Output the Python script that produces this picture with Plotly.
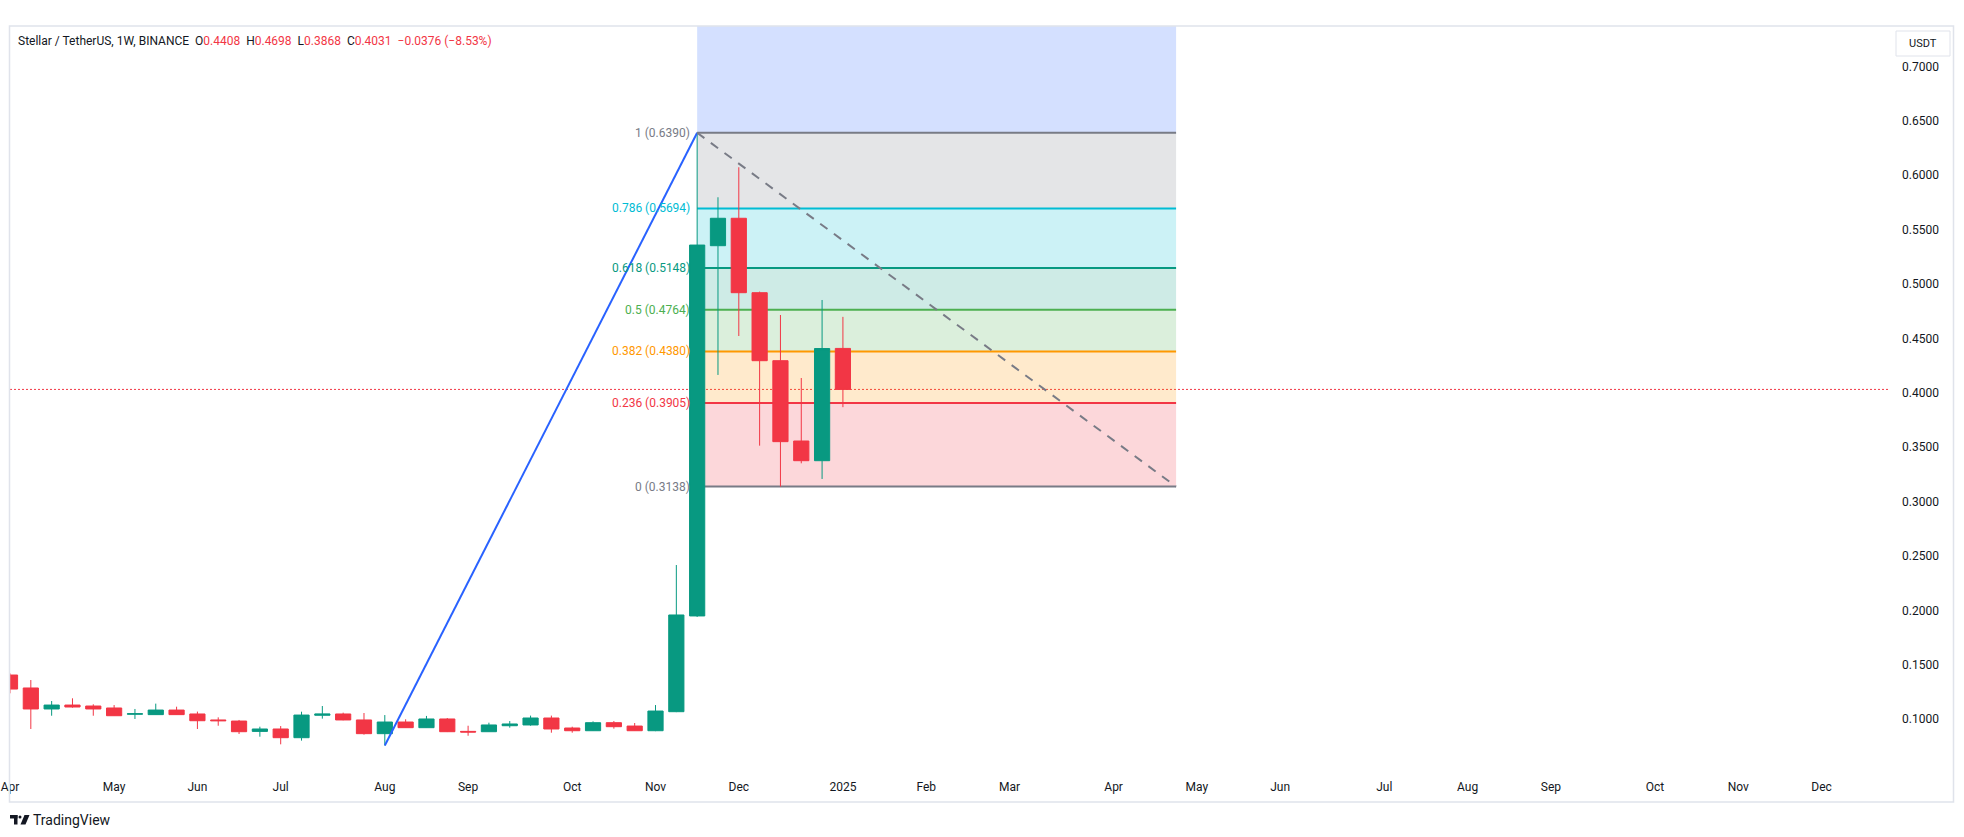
import plotly.graph_objects as go

# ---------------- data ----------------
dates = ["2024-04-01", "2024-04-08", "2024-04-15", "2024-04-22", "2024-04-29",
         "2024-05-06", "2024-05-13", "2024-05-20", "2024-05-27", "2024-06-03",
         "2024-06-10", "2024-06-17", "2024-06-24", "2024-07-01", "2024-07-08",
         "2024-07-15", "2024-07-22", "2024-07-29", "2024-08-05", "2024-08-12",
         "2024-08-19", "2024-08-26", "2024-09-02", "2024-09-09", "2024-09-16",
         "2024-09-23", "2024-09-30", "2024-10-07", "2024-10-14", "2024-10-21",
         "2024-10-28", "2024-11-04", "2024-11-11", "2024-11-18", "2024-11-25",
         "2024-12-02", "2024-12-09", "2024-12-16", "2024-12-23", "2024-12-30",
         "2025-01-06"]
opens = [0.1406, 0.1287, 0.1094, 0.1130, 0.1121, 0.1103, 0.1046, 0.1042, 0.1084, 0.1048,
         0.0993, 0.0983, 0.0888, 0.0910, 0.0830, 0.1036, 0.1048, 0.0993, 0.0867, 0.0974,
         0.0922, 0.1002, 0.0888, 0.0885, 0.0940, 0.0947, 0.1011, 0.0919, 0.0894, 0.0968,
         0.0937, 0.0894, 0.1069, 0.1949, 0.5352, 0.5604, 0.4920, 0.4295, 0.3557, 0.3376,
         0.4408]
highs = [0.1421, 0.1360, 0.1167, 0.1192, 0.1137, 0.1130, 0.1094, 0.1143, 0.1115, 0.1070,
         0.1017, 0.0993, 0.0931, 0.0937, 0.1069, 0.1121, 0.1060, 0.1057, 0.1038, 0.0999,
         0.1030, 0.1011, 0.0940, 0.0968, 0.0983, 0.1033, 0.1033, 0.0931, 0.0980, 0.0983,
         0.0965, 0.1130, 0.2417, 0.6390, 0.5797, 0.6073, 0.4930, 0.4715, 0.4136, 0.4853,
         0.4698]
lows = [0.1238, 0.0910, 0.1032, 0.1106, 0.1032, 0.1030, 0.1002, 0.1040, 0.1040, 0.0910,
        0.0940, 0.0864, 0.0839, 0.0769, 0.0803, 0.1005, 0.0990, 0.0858, 0.0758, 0.0920,
        0.0920, 0.0882, 0.0848, 0.0883, 0.0922, 0.0940, 0.0876, 0.0876, 0.0892, 0.0913,
        0.0892, 0.0890, 0.1065, 0.1940, 0.4164, 0.4522, 0.3514, 0.3138, 0.3352, 0.3208,
        0.3868]
closes = [0.1277, 0.1094, 0.1130, 0.1112, 0.1094, 0.1032, 0.1050, 0.1084, 0.1042, 0.0986,
          0.0986, 0.0885, 0.0910, 0.0830, 0.1038, 0.1048, 0.0993, 0.0867, 0.0974, 0.0922,
          0.1002, 0.0885, 0.0882, 0.0947, 0.0956, 0.1011, 0.0910, 0.0894, 0.0968, 0.0931,
          0.0894, 0.1075, 0.1958, 0.5358, 0.5604, 0.4920, 0.4295, 0.3551, 0.3376, 0.4407,
          0.4031]

# fibonacci retracement drawing
fib_start = "2024-11-18"
fib_end = "2025-04-28"
fib_high = 0.6390
fib_low = 0.3138
fib_levels = [0, 0.236, 0.382, 0.5, 0.618, 0.786, 1]
fib_ext_level = 1.618
fib_colors = ["#787b86", "#f23645", "#ff9800", "#4caf50", "#089981", "#00bcd4", "#787b86"]
fib_ext_color = "#2962ff"

# trend line (blue)
trend_start = "2024-08-05"
trend_low = 0.0758

last_price = 0.4031

month_ticks = ["2024-04-01", "2024-05-06", "2024-06-03", "2024-07-01", "2024-08-05",
               "2024-09-02", "2024-10-07", "2024-11-04", "2024-12-02", "2025-01-06",
               "2025-02-03", "2025-03-03", "2025-04-07", "2025-05-05", "2025-06-02",
               "2025-07-07", "2025-08-04", "2025-09-01", "2025-10-06", "2025-11-03",
               "2025-12-01"]
month_labels = ["Apr", "May", "Jun", "Jul", "Aug", "Sep", "Oct", "Nov", "Dec", "2025",
                "Feb", "Mar", "Apr", "May", "Jun", "Jul", "Aug", "Sep", "Oct", "Nov", "Dec"]

price_ticks = [0.10, 0.15, 0.20, 0.25, 0.30, 0.35, 0.40, 0.45, 0.50, 0.55, 0.60, 0.65, 0.70]

# ---------------- layout geometry (pixels) ----------------
W, H = 1964, 837
PL, PR, PT, PB = 10, 1890, 26, 774
FONT = "Roboto"
TXT = "#131722"
GREEN = "#089981"
RED = "#f23645"


def px(x):
    return (x - PL) / (PR - PL)


def py(y):
    return (PB - y) / (PB - PT)


def rgba(hexc, a):
    h = hexc.lstrip("#")
    r, g, b = int(h[0:2], 16), int(h[2:4], 16), int(h[4:6], 16)
    return f"rgba({r},{g},{b},{a})"


fig = go.Figure()

fig.add_trace(go.Candlestick(
    x=dates, open=opens, high=highs, low=lows, close=closes,
    increasing=dict(line=dict(color=GREEN, width=1), fillcolor=GREEN),
    decreasing=dict(line=dict(color=RED, width=1), fillcolor=RED),
    whiskerwidth=0, showlegend=False, hoverinfo="skip",
))

# blue trend line from swing low to swing high
fig.add_trace(go.Scatter(
    x=[trend_start, fib_start], y=[trend_low, fib_high], mode="lines",
    line=dict(color="#2962ff", width=2), showlegend=False, hoverinfo="skip"))

# dashed fib diagonal
fig.add_trace(go.Scatter(
    x=[fib_start, fib_end], y=[fib_high, fib_low], mode="lines",
    line=dict(color="#787b86", width=2, dash="9px,8px"), showlegend=False, hoverinfo="skip"))

shapes = []
rng = fib_high - fib_low
vals = [fib_low + lv * rng for lv in fib_levels]
# zones
for i in range(1, len(fib_levels)):
    shapes.append(dict(type="rect", xref="x", yref="y", x0=fib_start, x1=fib_end,
                       y0=vals[i - 1], y1=vals[i], fillcolor=rgba(fib_colors[i], 0.2),
                       line=dict(width=0), layer="below"))
shapes.append(dict(type="rect", xref="x", yref="y", x0=fib_start, x1=fib_end,
                   y0=vals[-1], y1=fib_low + fib_ext_level * rng,
                   fillcolor=rgba(fib_ext_color, 0.2), line=dict(width=0), layer="below"))
# level lines
for v, c in zip(vals, fib_colors):
    shapes.append(dict(type="line", xref="x", yref="y", x0=fib_start, x1=fib_end,
                       y0=v, y1=v, line=dict(color=c, width=2), layer="below"))
# last price dotted line
shapes.append(dict(type="line", xref="paper", yref="y", x0=0, x1=1, y0=last_price, y1=last_price,
                   line=dict(color=RED, width=1, dash="2px,2px"), layer="below"))
# widget frame
frame_col = "#e0e3eb"
shapes.append(dict(type="rect", xref="paper", yref="paper", x0=px(9.5), x1=px(1953.5),
                   y0=py(802), y1=py(26), line=dict(color=frame_col, width=1.5),
                   fillcolor="rgba(0,0,0,0)", layer="above"))
# USDT box
shapes.append(dict(type="rect", xref="paper", yref="paper", x0=px(1896), x1=px(1950),
                   y0=py(56), y1=py(31), line=dict(color=frame_col, width=1),
                   fillcolor="white", layer="above"))
# TradingView logo glyph
logo = "#131722"
shapes.append(dict(type="rect", xref="paper", yref="paper", x0=px(10), x1=px(17.5),
                   y0=py(818.5), y1=py(815), fillcolor=logo, line=dict(width=0)))
shapes.append(dict(type="rect", xref="paper", yref="paper", x0=px(14), x1=px(17.5),
                   y0=py(824.5), y1=py(815), fillcolor=logo, line=dict(width=0)))
shapes.append(dict(type="circle", xref="paper", yref="paper", x0=px(18.5), x1=px(21.5),
                   y0=py(818.5), y1=py(815.5), fillcolor=logo, line=dict(width=0)))
shapes.append(dict(type="path", xref="paper", yref="paper",
                   path=f"M {px(24.5)} {py(815)} L {px(29.5)} {py(815)} L {px(25.5)} {py(824.5)} L {px(20.5)} {py(824.5)} Z",
                   fillcolor=logo, line=dict(width=0)))

annotations = []
for lv, v, c in zip(fib_levels, vals, fib_colors):
    annotations.append(dict(x=fib_start, y=v, xref="x", yref="y", xanchor="right", yanchor="middle",
                            xshift=-5, showarrow=False, text=f"{lv:g} ({v:.4f})",
                            font=dict(family=FONT, size=12, color=c)))

o, h_, l_, c_ = opens[-1], highs[-1], lows[-1], closes[-1]
chg = closes[-1] - closes[-2]
pct = chg / closes[-2] * 100
red_span = lambda s: f"<span style='color:{RED}'>{s}</span>"
header = ("Stellar / TetherUS, 1W, BINANCE&nbsp;&nbsp;"
          f"O{red_span(f'{o:.4f}')}&nbsp;&nbsp;H{red_span(f'{h_:.4f}')}&nbsp;&nbsp;"
          f"L{red_span(f'{l_:.4f}')}&nbsp;&nbsp;C{red_span(f'{c_:.4f}')}&nbsp;&nbsp;"
          + red_span(f"\u2212{abs(chg):.4f} (\u2212{abs(pct):.2f}%)"))
annotations.append(dict(x=px(16), y=py(41), xref="paper", yref="paper", xanchor="left",
                        yanchor="middle", showarrow=False, text=header,
                        font=dict(family=FONT, size=12, color=TXT)))
annotations.append(dict(x=px(1923), y=py(43.5), xref="paper", yref="paper", xanchor="center",
                        yanchor="middle", showarrow=False, text="USDT",
                        font=dict(family=FONT, size=11, color=TXT)))
annotations.append(dict(x=px(31), y=py(820), xref="paper", yref="paper", xanchor="left",
                        yanchor="middle", showarrow=False, text="TradingView",
                        font=dict(family=FONT, size=14, color=TXT)))

fig.update_layout(
    width=W, height=H,
    margin=dict(l=PL, r=W - PR, t=PT, b=H - PB, pad=0, autoexpand=False),
    paper_bgcolor="white", plot_bgcolor="white",
    shapes=shapes, annotations=annotations,
    showlegend=False,
    boxgap=0.27, boxgroupgap=0,
    xaxis=dict(type="date", range=["2024-04-01", "2025-12-24"], rangeslider=dict(visible=False),
               tickvals=month_ticks, ticktext=month_labels, showgrid=False, zeroline=False,
               showline=False, ticks="", ticklabelstandoff=4, automargin=False,
               tickfont=dict(family=FONT, size=12, color=TXT)),
    yaxis=dict(range=[0.04963, 0.73713], side="right", tickvals=price_ticks,
               tickformat=".4f", showgrid=False, zeroline=False, showline=False, ticks="",
               ticklabelstandoff=11, automargin=False,
               tickfont=dict(family=FONT, size=12, color=TXT)),
)

fig.write_html("out.html")
